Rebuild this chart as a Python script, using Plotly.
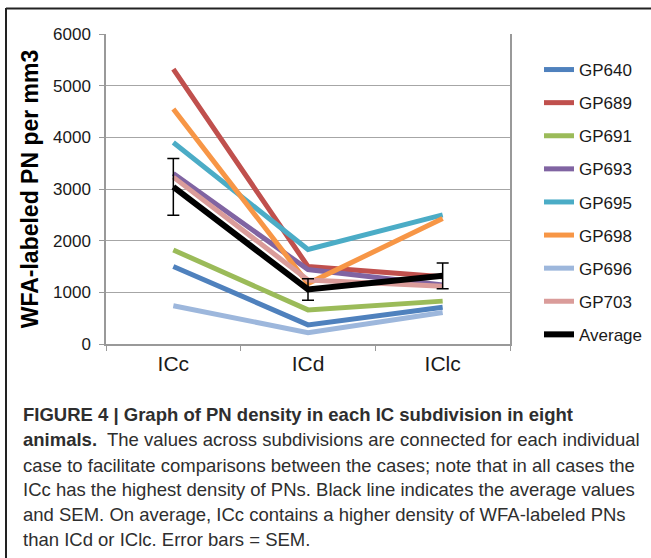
import plotly.graph_objects as go

categories = ["ICc", "ICd", "IClc"]
series_names = ["GP640", "GP689", "GP691", "GP693", "GP695", "GP698", "GP696", "GP703"]
gp640 = [1500, 370, 710]
gp689 = [5320, 1500, 1300]
gp691 = [1820, 660, 830]
gp693 = [3300, 1440, 1140]
gp695 = [3900, 1830, 2500]
gp698 = [4550, 1170, 2430]
gp696 = [740, 220, 610]
gp703 = [3230, 1240, 1120]
average = [3040, 1055, 1320]
average_sem = [550, 210, 250]
series_values = [gp640, gp689, gp691, gp693, gp695, gp698, gp696, gp703]
colors = ["#4F81BD", "#C0504D", "#9BBB59", "#8064A2", "#4BACC6", "#F79646", "#9DB7DC", "#DA9C9A"]
y_ticks = [0, 1000, 2000, 3000, 4000, 5000, 6000]

caption_lines = [
    "<b>FIGURE 4 | Graph of PN density in each IC subdivision in eight</b>",
    "<b>animals.</b>  The values across subdivisions are connected for each individual",
    "case to facilitate comparisons between the cases; note that in all cases the",
    "ICc has the highest density of PNs. Black line indicates the average values",
    "and SEM. On average, ICc contains a higher density of WFA-labeled PNs",
    "than ICd or IClc. Error bars = SEM.",
]

FONT = "Liberation Sans, Arial, sans-serif"
fig = go.Figure()
for name, vals, col in zip(series_names, series_values, colors):
    fig.add_trace(go.Scatter(x=categories, y=vals, mode="lines", name=name,
                             legendgroup=name,
                             line=dict(color=col, width=5)))
fig.add_trace(go.Scatter(x=categories, y=average, mode="lines", name="Average",
                         legendgroup="Average",
                         line=dict(color="#000000", width=6),
                         error_y=dict(type="data", array=average_sem, visible=True,
                                      color="#000000", thickness=1.5, width=6)))

# plot area: x 106..510, y 34..344
L, R, T, B = 106, 510, 34, 344
W, H = 651, 558
def px(x):
    return (x - L) / (R - L)
def py(y):
    return (B - y) / (B - T)

annotations = []
caption_y = [414, 440, 465, 489, 514, 539]
for txt, yy in zip(caption_lines, caption_y):
    annotations.append(dict(text=txt, x=px(21), y=py(yy), xref="paper", yref="paper",
                            xanchor="left", yanchor="middle", showarrow=False,
                            font=dict(family=FONT, size=18.5, color="#2e2e2e")))

shapes = [
    dict(type="line", xref="paper", yref="paper", x0=px(6), x1=px(651), y0=py(8.5), y1=py(8.5),
         line=dict(color="#222222", width=2)),
    dict(type="line", xref="paper", yref="paper", x0=px(6), x1=px(6), y0=py(8), y1=py(560),
         line=dict(color="#222222", width=2)),
]

fig.update_layout(
    width=W, height=H,
    margin=dict(l=L, r=W - R, t=T, b=H - B, autoexpand=False),
    paper_bgcolor="white", plot_bgcolor="white",
    font=dict(family=FONT, color="#1a1a1a"),
    showlegend=True,
    legend=dict(x=px(539), y=py(52), xanchor="left", yanchor="top",
                font=dict(size=17, family=FONT, color="#1a1a1a"), maxheight=500,
                tracegroupgap=8, bgcolor="rgba(0,0,0,0)", itemwidth=30),
    annotations=annotations,
    shapes=shapes,
)
fig.update_xaxes(type="category", showgrid=False, showline=True, linecolor="#999999", linewidth=1.5,
                 mirror=False, ticks="outside", tickson="boundaries", ticklen=5, tickcolor="#999999",
                 tickfont=dict(size=21, family=FONT, color="#1a1a1a"), range=[-0.5, 2.5], automargin=False)
fig.update_yaxes(range=[0, 6000], tickvals=y_ticks, showgrid=True, gridcolor="#A6A6A6", gridwidth=1,
                 showline=True, linecolor="#999999", linewidth=1.5, mirror=True,
                 ticks="outside", ticklen=5, tickcolor="#999999", zeroline=False, automargin=False,
                 ticklabelstandoff=5,
                 tickfont=dict(size=17, family=FONT, color="#1a1a1a"),
                 title=dict(text="<b>WFA-labeled PN per mm3</b>", font=dict(size=23, family=FONT, color="#000000"),
                            standoff=8))

fig.write_html("out.html", config={"displayModeBar": False},
               post_script="document.body.style.margin='0';")
